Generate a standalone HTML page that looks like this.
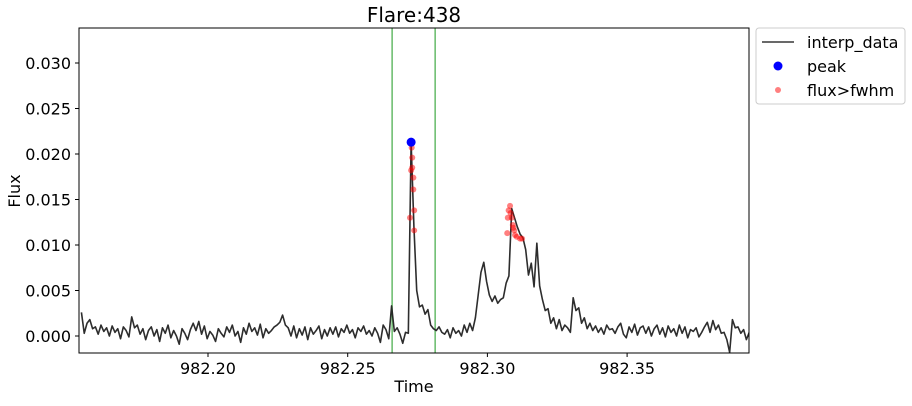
<!DOCTYPE html>
<html><head><meta charset="utf-8"><style>
body{margin:0;background:#fff;font-family:"DejaVu Sans",sans-serif}
</style></head><body>
<svg id="c" width="912" height="402" xmlns="http://www.w3.org/2000/svg" font-family="DejaVu Sans, sans-serif">
<text x="414" y="22" font-size="20" text-anchor="middle" fill="#000">Flare:438</text>
<text x="414" y="392" font-size="16" text-anchor="middle">Time</text>
<text x="20" y="191" font-size="16" text-anchor="middle" transform="rotate(-90 20 191)">Flux</text>
<defs><clipPath id="pc"><rect x="79" y="28" width="670" height="325"/></clipPath></defs>
<g id="marks" clip-path="url(#pc)"></g>
<g id="axes"></g>
<rect x="79" y="28" width="670" height="325" fill="none" stroke="#000" stroke-width="1"/>
<g>
<rect x="756" y="28" width="149" height="76" rx="3" fill="#fff" stroke="#ccc"/>
<line x1="762" y1="42" x2="794" y2="42" stroke="#222" stroke-width="1.5" opacity="0.9"/>
<text x="807" y="48" font-size="16">interp_data</text>
<circle cx="778" cy="66" r="4.5" fill="#0000ff"/>
<text x="807" y="72" font-size="16">peak</text>
<circle cx="778" cy="90" r="3" fill="#ff0000" opacity="0.5"/>
<text x="807" y="96" font-size="16">flux&gt;fwhm</text>
</g>
</svg>
<script>
const t0 = 982.1547, dt = 0.001;
const fluxE4 = [26,3,14,18,8,10,2,12,5,9, 0,11,4,8,-3,10,6,-1,21,9, 12,2,8,-4,6,10,0,7,-6,9, 3,12,-2,6,0,-9,8,3,-4,7,
14,6,16,2,11,-3,5,1,-6,8, 3,-1,10,4,12,0,5,-7,9,2, 14,5,9,1,13,-2,8,3,6,10, 12,15,23,12,9,0,11,-2,8,1,
10,-4,9,2,6,11,-3,7,0,9, 2,10,-1,8,4,12,3,7,-2,9, 5,11,2,6,0,9,3,-7,12,7, -3,33,5,9,2,-8,4,3,213,120,
50,32,34,24,29,12,8,6,10,4, 2,7,-2,9,3,6,0,12,4,14, 6,20,45,70,81,60,45,38,44,36, 40,42,58,66,140,130,120,112,108,95,
67,80,54,102,55,40,28,30,14,20, 8,18,6,12,9,4,42,28,31,14, 20,8,14,6,11,4,9,2,12,7, 8,3,10,14,2,-2,10,4,13,1,
9,11,3,10,0,8,12,2,9,-1, 11,4,8,0,12,3,10,-2,7,5, 9,-1,4,10,15,4,17,7,12,3, 4,-4,-18,18,9,10,3,7,-4,4];
const redTimes = [982.2729,982.2731,982.2731,982.2727,982.2735,982.2735,982.2738,982.2723,982.2738,
982.3081,982.3076,982.3087,982.3073,982.3071,982.3091,982.3096,982.3105,982.3117,982.3124,982.3083,982.3093,982.3099];
const redFlux = [0.0207,0.0196,0.0185,0.0182,0.0174,0.0161,0.0138,0.0130,0.0116,
0.0143,0.0138,0.0130,0.0130,0.0113,0.0122,0.0116,0.0109,0.0107,0.0107,0.0135,0.0119,0.0111];
const peakTime = [982.2727], peakFlux = [0.0213];
const vlines = [982.2659, 982.2813];
const xTicks = [982.20, 982.25, 982.30, 982.35];
const yTicks = [0, 0.005, 0.010, 0.015, 0.020, 0.025, 0.030];

const X = t => 208 + (t - 982.20) * 2794;
const Y = v => 336 - v * 9100;
const NS = "http://www.w3.org/2000/svg";
const marks = document.getElementById('marks'), axes = document.getElementById('axes');
function mk(tag, attrs, parent){const e=document.createElementNS(NS,tag);for(const k in attrs)e.setAttribute(k,attrs[k]);parent.appendChild(e);return e;}

vlines.forEach(t=>{
  const l=mk('line',{x1:X(t),x2:X(t),y1:28,y2:353,stroke:'#4caf50','stroke-width':1.5,opacity:0.85},marks);
  
  
});
const pts = fluxE4.map((v,i)=>X(t0+i*dt).toFixed(2)+','+Y(v*1e-4).toFixed(2)).join(' ');
const pl = mk('polyline',{points:pts,fill:'none',stroke:'#222','stroke-width':1.6,opacity:0.95,'stroke-linejoin':'round'},marks);


redTimes.forEach((t,i)=>{
  const c=mk('circle',{cx:X(t),cy:Y(redFlux[i]),r:3,fill:'#ff0000',opacity:0.5},marks);
  
  
});
peakTime.forEach((t,i)=>{
  const c=mk('circle',{cx:X(t),cy:Y(peakFlux[i]),r:4.5,fill:'#0000ff'},marks);
  
  
});
xTicks.forEach(t=>{
  const x=X(t);
  const l=mk('line',{x1:x,x2:x,y1:353,y2:357,stroke:'#000'},axes);
  
  
  const tx=mk('text',{x:x,y:374,'font-size':16,'text-anchor':'middle'},axes);
  tx.textContent=t.toFixed(2);
  
  
});
yTicks.forEach(v=>{
  const y=Y(v);
  const l=mk('line',{x1:75,x2:79,y1:y,y2:y,stroke:'#000'},axes);
  
  
  const tx=mk('text',{x:71,y:y+6,'font-size':16,'text-anchor':'end'},axes);
  tx.textContent=v.toFixed(3);
  
  
});
</script>
</body></html>
